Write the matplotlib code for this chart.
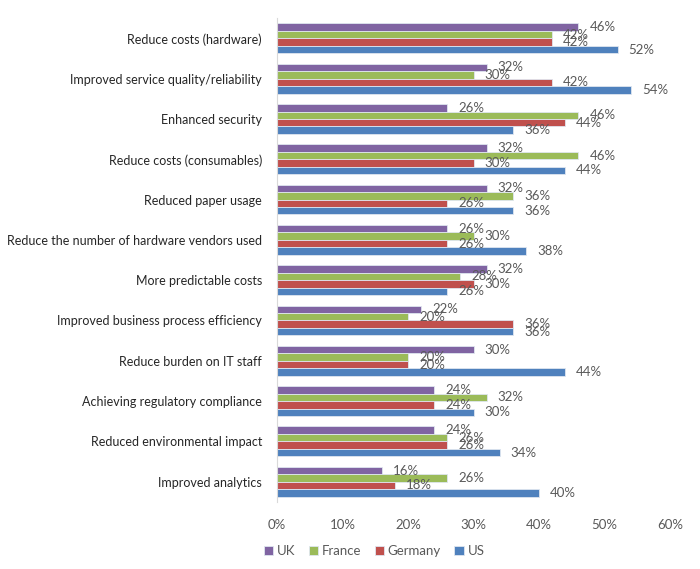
import matplotlib
matplotlib.use('Agg')
import matplotlib.pyplot as plt
from matplotlib.ticker import PercentFormatter
import numpy as np

plt.rcParams['font.family'] = ['Lato', 'DejaVu Sans']

categories = [
    'Reduce costs (hardware)',
    'Improved service quality/reliability',
    'Enhanced security',
    'Reduce costs (consumables)',
    'Reduced paper usage',
    'Reduce the number of hardware vendors used',
    'More predictable costs',
    'Improved business process efficiency',
    'Reduce burden on IT staff',
    'Achieving regulatory compliance',
    'Reduced environmental impact',
    'Improved analytics',
]
uk = [46, 32, 26, 32, 32, 26, 32, 22, 30, 24, 24, 16]
france = [42, 30, 46, 46, 36, 30, 28, 20, 20, 32, 26, 26]
germany = [42, 42, 44, 30, 26, 26, 30, 36, 20, 24, 26, 18]
us = [52, 54, 36, 44, 36, 38, 26, 36, 44, 30, 34, 40]

series = [('UK', uk, '#8064A2'), ('France', france, '#9BBB59'),
          ('Germany', germany, '#C0504D'), ('US', us, '#4F81BD')]

fig = plt.figure(figsize=(7.0, 5.69), dpi=100)
ax = fig.add_axes([0.396, 0.118, 0.561, 0.85])

y = np.arange(len(categories))
h = 0.185
for j, (name, vals, col) in enumerate(series):
    pos = y + (j - 1.5) * h
    v = np.array(vals) / 100
    ax.barh(pos, v, height=h, color=col, edgecolor='#dfe6f0', linewidth=0.6, label=name)
    for p, val in zip(pos, vals):
        ax.text(val / 100 + 0.017, p, f'{val}%', va='center', ha='left',
                fontsize=9.5, color='#595959')

ax.set_xlim(0, 0.6)
ax.set_ylim(len(categories) - 0.5, -0.5)
ax.set_yticks(y)
ax.set_yticklabels(categories, fontsize=9, color='#262626')
ax.set_xticks(np.arange(0, 0.61, 0.1))
ax.xaxis.set_major_formatter(PercentFormatter(1.0, decimals=0))
ax.tick_params(axis='x', length=0, labelsize=9.5, labelcolor='#595959', pad=12)
ax.tick_params(axis='y', length=0, pad=11)
for s in ['top', 'right', 'bottom']:
    ax.spines[s].set_visible(False)
ax.spines['left'].set_color('#d9d9d9')

leg = fig.legend(loc='lower left', bbox_to_anchor=(0.36, 0.0), ncol=4, frameon=False,
                 fontsize=9.5, handlelength=0.7, handleheight=0.7, handletextpad=0.3,
                 columnspacing=1.0)
for t in leg.get_texts():
    t.set_color('#595959')

fig.savefig('out.png', dpi=100)
